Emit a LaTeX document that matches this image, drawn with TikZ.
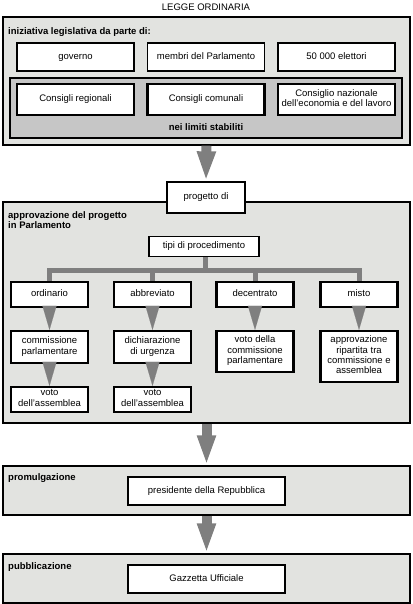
\documentclass[tikz,border=0pt]{standalone}
\usepackage{fontspec}
\setmainfont{Liberation Sans}
\usetikzlibrary{arrows.meta}
\definecolor{panelgray}{HTML}{E2E3E0}
\definecolor{innergray}{HTML}{C6C6C6}
\definecolor{arrowgray}{HTML}{7F7F7F}
\tikzset{
  every node/.style={font=\fontsize{9.5}{10.4}\selectfont, inner sep=1pt},
  panel/.style={draw=black, line width=1.4, fill=panelgray, minimum width=407},
  whitebox/.style={draw=black, line width=1.3, fill=white, align=center, minimum width=117, minimum height=28,
    execute at begin node=\strut, execute at end node=\strut},
  thickbox/.style={whitebox, line width=2.4},
  stepbox/.style={whitebox, line width=2.2, minimum width=77, minimum height=25},
  header/.style={anchor=west, font=\fontsize{9.5}{10.4}\selectfont\bfseries, align=left},
  bigarrow/.style={arrowgray, line width=10pt, -{Triangle[width=17pt,length=30pt]}},
  smallarrow/.style={arrowgray, line width=0.1pt, -{Triangle[width=14pt,length=24pt]}},
  tree/.style={arrowgray, line width=5pt}
}
\begin{document}
\begin{tikzpicture}[x=1pt,y=-1pt]
\useasboundingbox (0,0) rectangle (412,604);
\node at (206,7) {LEGGE ORDINARIA};

% iniziativa
\node[panel, minimum height=128] (init) at (206.5,81) {};
\node[header] at (7,32) {iniziativa legislativa da parte di:};
\node[whitebox] (gov) at (75.5,57) {governo};
\node[whitebox] (memb) at (206,57) {membri del Parlamento};
\node[whitebox] (elet) at (336.5,57) {50 000 elettori};
\node[draw=black, line width=1.4, fill=innergray, minimum width=392, minimum height=60] (limiti) at (206,108) {};
\node[thickbox, minimum height=31] (reg) at (75.5,99.5) {Consigli regionali};
\node[thickbox, minimum height=31] (com) at (206,99.5) {Consigli comunali};
\node[thickbox, minimum height=31] (cnel) at (336.5,99.5) {Consiglio nazionale\\dell'economia e del lavoro};
\node[font=\fontsize{9.5}{10.4}\selectfont\bfseries] at (206,127) {nei limiti stabiliti};

% approvazione
\node[panel, minimum height=221] (appr) at (206.5,312.5) {};
\node[whitebox, minimum width=78, minimum height=31] (prog) at (206,197.5) {progetto di};
\draw[bigarrow] (init.south) -- (prog.north);
\node[header, anchor=north west] at (7,210) {approvazione del progetto\\in Parlamento};
\node[whitebox, minimum width=110, minimum height=20] (tipi) at (204,246.5) {tipi di procedimento};

\node[stepbox] (ord) at (49.5,294.5) {ordinario};
\node[stepbox] (abb) at (152.5,294.5) {abbreviato};
\node[stepbox] (dec) at (255,294.5) {decentrato};
\node[stepbox] (mis) at (359,294.5) {misto};

\coordinate (bar) at (205,270);
\draw[tree] (tipi.south -| bar) -- (bar);
\draw[tree, line join=miter] (ord.north) -- (ord.north |- bar) -- (mis.north |- bar) -- (mis.north);
\draw[tree] (abb.north) -- (abb.north |- bar);
\draw[tree] (dec.north) -- (dec.north |- bar);

\node[stepbox, minimum height=32] (commp) at (49.5,347) {commissione\\parlamentare};
\node[stepbox, minimum height=32] (urg) at (152.5,347) {dichiarazione\\di urgenza};
\node[stepbox, minimum height=41] (votoc) at (255,351.5) {voto della\\commissione\\parlamentare};
\node[stepbox, minimum height=51] (ripa) at (359,356.5) {approvazione\\ripartita tra\\commissione e\\assemblea};
\node[stepbox] (votoa) at (49.5,399.5) {voto\\dell'assemblea};
\node[stepbox] (votob) at (152.5,399.5) {voto\\dell'assemblea};

\draw[smallarrow] (ord.south) -- (commp.north);
\draw[smallarrow] (abb.south) -- (urg.north);
\draw[smallarrow] (dec.south) -- (votoc.north);
\draw[smallarrow] (mis.south) -- (ripa.north);
\draw[smallarrow] (commp.south) -- (votoa.north);
\draw[smallarrow] (urg.south) -- (votob.north);

% promulgazione
\node[panel, minimum height=49] (prom) at (206.5,490.5) {};
\node[header] at (7,478) {promulgazione};
\node[thickbox, minimum width=157] (pres) at (206.5,491) {presidente della Repubblica};
\draw[bigarrow] (appr.south) -- (prom.north);

% pubblicazione
\node[panel, minimum height=49] (pubb) at (206.5,578.5) {};
\node[header] at (7,567) {pubblicazione};
\node[thickbox, minimum width=157] (gazz) at (206.5,579) {Gazzetta Ufficiale};
\draw[bigarrow] (prom.south) -- (pubb.north);
\end{tikzpicture}
\end{document}
